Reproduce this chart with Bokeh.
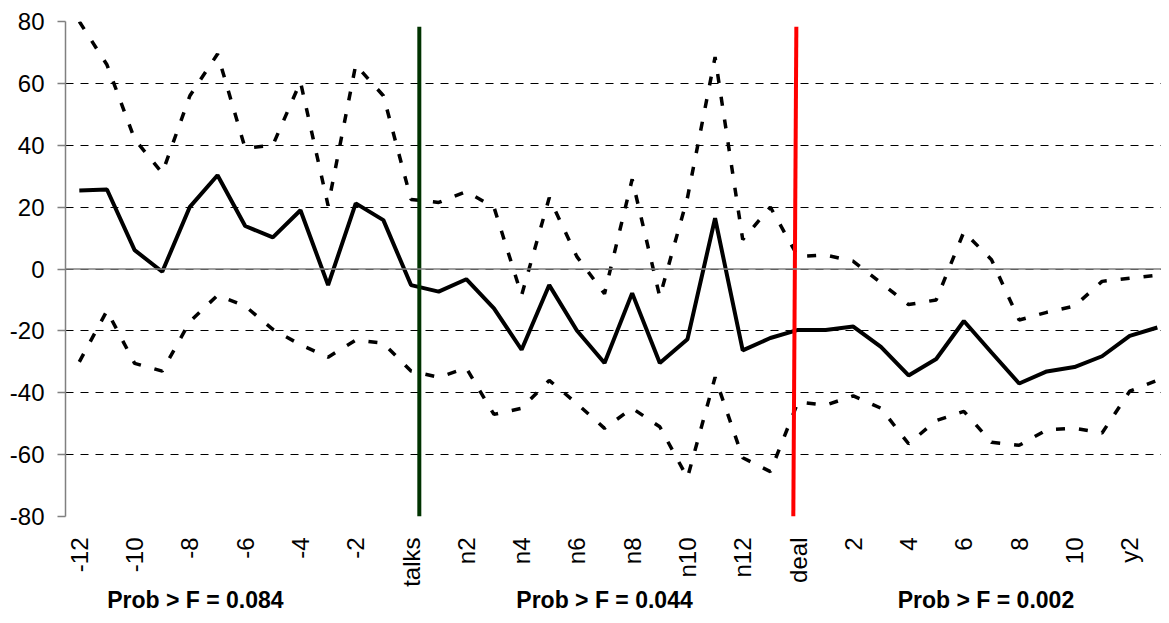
from bokeh.plotting import figure
from bokeh.models import Range1d, FixedTicker, Span, LinearAxis
from bokeh.embed import file_html
from bokeh.resources import INLINE
import math

# ---------------- data ----------------
categories = ([str(i) for i in range(-12, 0)] + ["talks"] +
              ["n%d" % i for i in range(1, 14)] + ["deal"] +
              [str(i) for i in range(1, 11)] + ["y1", "y2", "y3"])

mean = [25.4, 25.7, 6.1, -0.9, 20.1, 30.3, 13.9, 10.2, 19.0, -5.2,
        21.2, 15.8, -5.2, -7.3, -3.3, -12.7, -26.1, -5.2, -19.9, -30.4,
        -7.8, -30.4, -22.7, 16.4, -26.3, -22.3, -19.7, -19.7, -18.6, -25.2,
        -34.4, -29.1, -16.8, -27.0, -37.0, -33.1, -31.7, -28.2, -21.6, -18.9]

upper = [80, 66, 42, 31, 56, 69.5, 39, 40, 60.5, 20.5,
         66, 56, 22.5, 21.5, 25, 20, -8.5, 23, 4, -8,
         29, -9, 23, 68.5, 9.5, 20, 4, 4.5, 2.5, -4.5,
         -11.5, -10, 12, 3, -16.5, -14, -12, -4, -3, -2]

lower = [-30, -13.5, -30.5, -33, -17, -8.5, -12, -19.5, -24.5, -28.5,
         -23, -24, -33, -35, -32, -47, -45, -36, -43.5, -51.5,
         -45, -51, -67.5, -35, -61, -65.5, -43, -44, -41, -45,
         -56.5, -49, -46, -56, -57, -52, -51.5, -53, -39.5, -36]

events = ["talks", "deal"]
event_colors = ["#003300", "#FF0000"]
event_top = 78.3

prob_texts = ["Prob > F = 0.084", "Prob > F = 0.044", "Prob > F = 0.002"]
prob_x = [4.2, 19.0, 32.8]

y_ticks = [-80, -60, -40, -20, 0, 20, 40, 60, 80]
y_tick_labels = ["-80", "-60", "-40", "-20", "0", "20", "40", "60", "80"]

# ---------------- figure ----------------
FONT = "Liberation Sans"
x = list(range(len(categories)))

p = figure(width=1161, height=615, output_backend="svg", toolbar_location=None,
           x_range=Range1d(-0.5, 39.15), y_range=Range1d(-80, 80),
           min_border_left=65, min_border_right=0, min_border_top=21,
           min_border_bottom=97)
p.outline_line_color = None
p.background_fill_color = "white"
p.border_fill_color = "white"

# grid
p.xgrid.visible = False
p.ygrid.ticker = FixedTicker(ticks=y_ticks)
p.ygrid.grid_line_color = "black"
p.ygrid.grid_line_width = 1
p.ygrid.grid_line_dash = "8 7"

# y axis
p.yaxis.ticker = FixedTicker(ticks=y_ticks)
p.yaxis.major_label_overrides = dict(zip(y_ticks, y_tick_labels))
p.yaxis.axis_line_color = "#808080"
p.yaxis.axis_line_width = 1.5
p.yaxis.major_tick_line_color = "#808080"
p.yaxis.major_tick_line_width = 1.5
p.yaxis.major_tick_in = 0
p.yaxis.major_tick_out = 8
p.yaxis.minor_tick_line_color = None
p.yaxis.major_label_standoff = 13
p.yaxis.major_label_text_font = FONT
p.yaxis.major_label_text_font_size = "24px"
p.yaxis.major_label_text_color = "black"

# x axis (category labels)
xa = p.xaxis[0]
xa.ticker = FixedTicker(ticks=x[::2])
xa.major_label_overrides = {i: categories[i] for i in x[::2]}
xa.axis_line_color = None
xa.major_tick_line_color = None
xa.minor_tick_line_color = None
xa.major_tick_in = 0
xa.major_tick_out = 0
xa.major_label_standoff = 21
xa.major_label_orientation = math.pi / 2
xa.major_label_text_font = FONT
xa.major_label_text_font_size = "24px"
xa.major_label_text_color = "black"

# second axis below: test statistic for each period
pa = LinearAxis(ticker=FixedTicker(ticks=prob_x),
                major_label_overrides=dict(zip(prob_x, prob_texts)))
pa.axis_line_color = None
pa.major_tick_line_color = None
pa.minor_tick_line_color = None
pa.major_tick_in = 0
pa.major_tick_out = 0
pa.major_label_standoff = -3
pa.major_label_text_font = FONT
pa.major_label_text_font_style = "bold"
pa.major_label_text_font_size = "23px"
pa.major_label_text_color = "black"
p.add_layout(pa, "below")

# zero line (category axis crossing)
p.add_layout(Span(location=0, dimension="width", line_color="#808080",
                  line_width=1.5))

# data lines
p.line(x, upper, line_color="black", line_width=3.5, line_dash="9 14")
p.line(x, lower, line_color="black", line_width=3.5, line_dash="9 14")
p.line(x, mean, line_color="black", line_width=4)

# event lines (just after the event category)
ti = categories.index("talks")
di = categories.index("deal")
p.segment(x0=[ti + 0.3, di - 0.17], y0=[-80, -80],
          x1=[ti + 0.3, di - 0.06], y1=[event_top, event_top],
          line_color=event_colors, line_width=4)

open("out.html", "w").write(file_html(p, INLINE))
